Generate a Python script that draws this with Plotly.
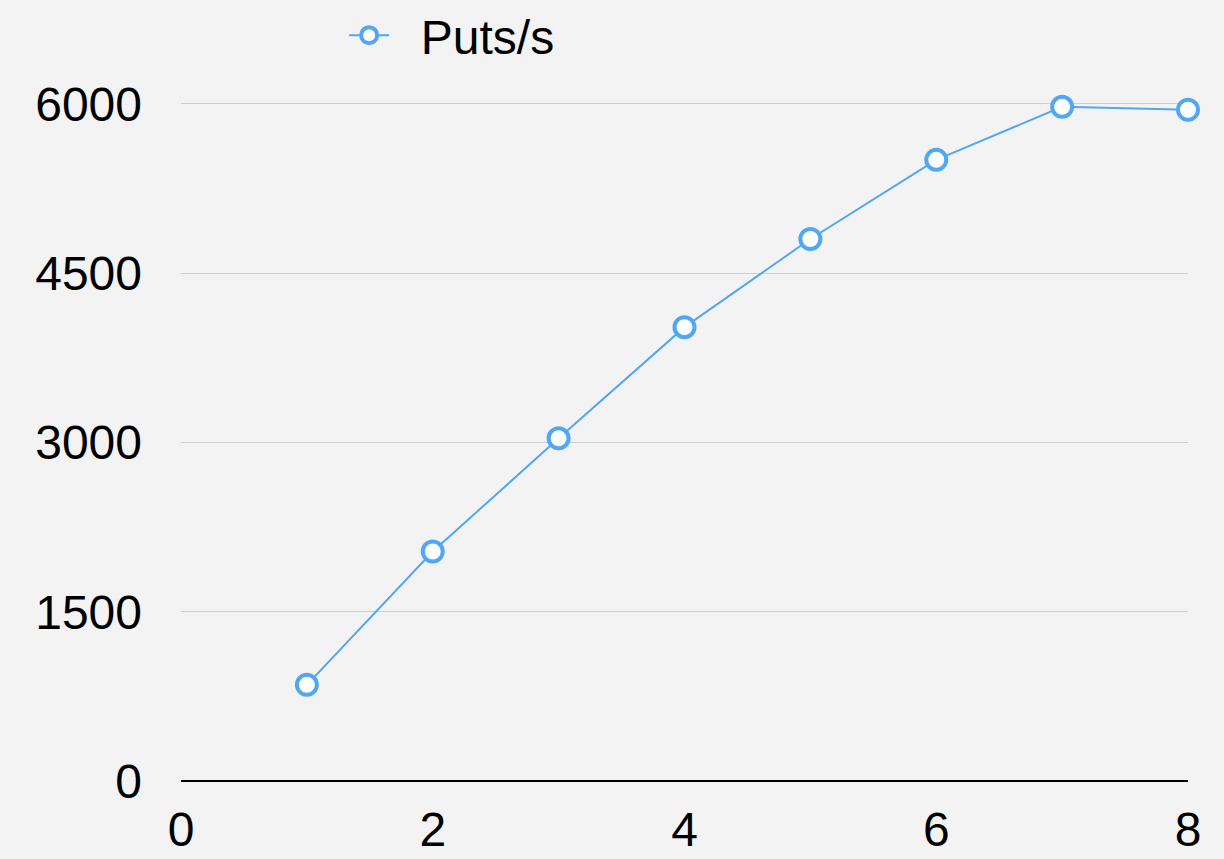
import plotly.graph_objects as go

# Throughput measurements
threads = [1, 2, 3, 4, 5, 6, 7, 8]
puts_per_sec = [852, 2033, 3036, 4021, 4802, 5503, 5973, 5947]

x_ticks = [0, 2, 4, 6, 8]
y_ticks = [0, 1500, 3000, 4500, 6000]

BLUE = "#51a7f4"
FONT = "Liberation Sans, Arial, Helvetica, sans-serif"

fig = go.Figure()
fig.add_trace(go.Scatter(
    x=threads,
    y=puts_per_sec,
    mode="lines+markers",
    name="\u00a0\u00a0Puts/s",
    line=dict(color=BLUE, width=2),
    marker=dict(size=20, color="white", line=dict(color=BLUE, width=4)),
    cliponaxis=False,
))

fig.update_layout(
    width=1224,
    height=859,
    margin=dict(l=181, r=36, t=97, b=78, autoexpand=False),
    paper_bgcolor="#f3f3f3",
    plot_bgcolor="#f3f3f3",
    font=dict(family=FONT, size=48, color="black"),
    showlegend=True,
    legend=dict(
        x=0.162, y=1.09, xanchor="left", yanchor="middle",
        bgcolor="rgba(0,0,0,0)", font=dict(size=48),
        itemwidth=40,
    ),
    xaxis=dict(
        range=[0, 8],
        tickvals=x_ticks,
        showgrid=False,
        zeroline=False,
        showline=False,
        ticks="",
        ticklabelstandoff=16,
    ),
    yaxis=dict(
        range=[0, 6060],
        tickvals=y_ticks,
        showgrid=True,
        gridcolor="#cfcfcf",
        gridwidth=1,
        zeroline=True,
        zerolinecolor="black",
        zerolinewidth=2,
        showline=False,
        ticks="",
        ticklabelstandoff=38,
    ),
)

fig.write_html("out.html")
